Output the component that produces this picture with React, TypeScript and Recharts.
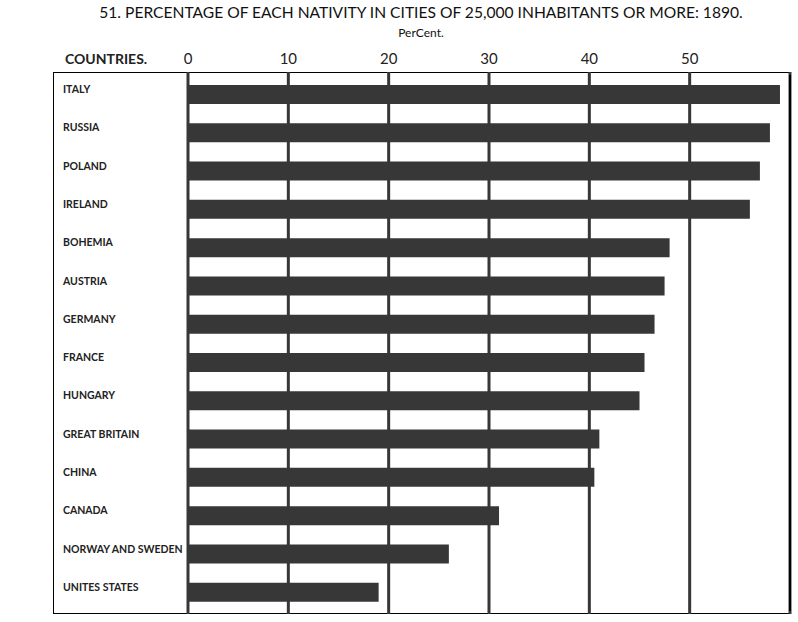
import React from "react";
import {
  BarChart,
  Bar,
  XAxis,
  YAxis,
  CartesianGrid,
  ReferenceLine,
} from "recharts";

const countries = [
  "ITALY",
  "RUSSIA",
  "POLAND",
  "IRELAND",
  "BOHEMIA",
  "AUSTRIA",
  "GERMANY",
  "FRANCE",
  "HUNGARY",
  "GREAT BRITAIN",
  "CHINA",
  "CANADA",
  "NORWAY AND SWEDEN",
  "UNITES STATES",
];

const percents = [59, 58, 57, 56, 48, 47.5, 46.5, 45.5, 45, 41, 40.5, 31, 26, 19];

const xTicks = [0, 10, 20, 30, 40, 50];

const data = countries.map((country, i) => ({ country, pct: percents[i] }));

const FONT = "Lato, 'Liberation Sans', sans-serif";
const INK = "#373737";

const CountryTick = (props: any) => {
  const { y, payload } = props;
  return (
    <text
      x={63}
      y={y}
      dy={-1}
      textAnchor="start"
      fill="#222"
      fontFamily={FONT}
      fontSize={10.5}
      fontWeight={700}
    >
      {payload.value}
    </text>
  );
};

const PercentTick = (props: any) => {
  const { x, payload } = props;
  return (
    <text
      x={x}
      y={64}
      textAnchor="middle"
      fill="#222"
      fontFamily={FONT}
      fontSize={15}
    >
      {payload.value}
    </text>
  );
};

export default function App() {
  return (
    <div
      style={{
        position: "absolute",
        left: 0,
        top: 0,
        width: 798,
        height: 622,
        background: "#fff",
        fontFamily: FONT,
      }}
    >
      <div
        style={{
          position: "absolute",
          left: -2,
          top: 3,
          width: 846,
          textAlign: "center",
          fontSize: 15.6,
          color: "#111",
          whiteSpace: "nowrap",
        }}
      >
        51. PERCENTAGE OF EACH NATIVITY IN CITIES OF 25,000 INHABITANTS OR MORE: 1890.
      </div>
      <div
        style={{
          position: "absolute",
          left: -2,
          top: 25,
          width: 846,
          textAlign: "center",
          fontSize: 12,
          color: "#111",
        }}
      >
        PerCent.
      </div>
      <div
        style={{
          position: "absolute",
          left: 65,
          top: 50,
          fontSize: 14,
          fontWeight: 700,
          color: "#222",
        }}
      >
        COUNTRIES.
      </div>
      <div
        style={{
          position: "absolute",
          left: 53,
          top: 72,
          width: 737,
          height: 542,
          border: "1px solid #000",
          boxSizing: "border-box",
        }}
      />
      <div style={{ position: "absolute", left: 0, top: 0 }}>
        <BarChart
          width={798}
          height={622}
          data={data}
          layout="vertical"
          margin={{ top: 55, right: 8, bottom: 11, left: 0 }}
        >
          <CartesianGrid
            horizontal={false}
            vertical={true}
            stroke={INK}
            strokeWidth={3}
            y={72}
            height={542}
          />
          <XAxis
            type="number"
            dataKey="pct"
            orientation="top"
            domain={[0, 60]}
            ticks={xTicks}
            height={20}
            axisLine={false}
            tickLine={false}
            tick={<PercentTick />}
          />
          <YAxis
            type="category"
            dataKey="country"
            width={188}
            axisLine={false}
            tickLine={false}
            tick={<CountryTick />}
            interval={0}
          />
          <Bar dataKey="pct" fill={INK} barSize={19} isAnimationActive={false} />
          <ReferenceLine x={60} stroke="#000" strokeWidth={2} />
        </BarChart>
      </div>
    </div>
  );
}
